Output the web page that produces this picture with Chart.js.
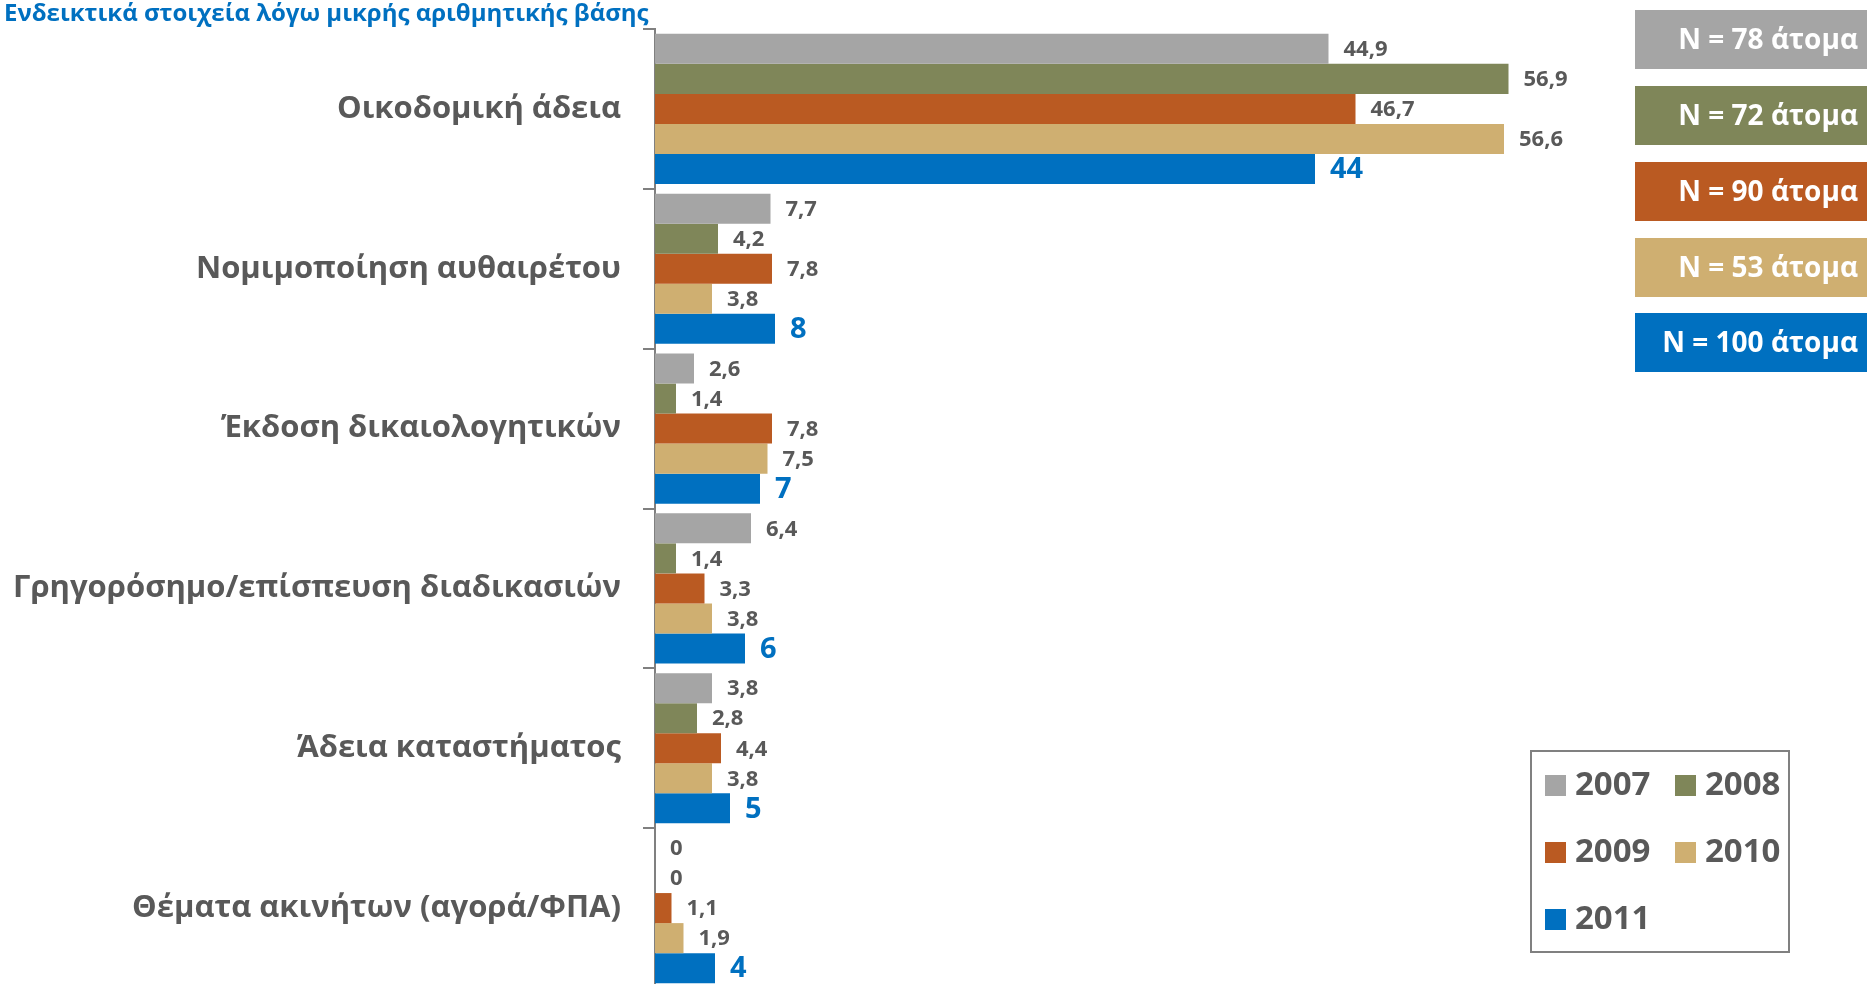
<!DOCTYPE html>
<html lang="el">
<head>
  <meta charset="UTF-8">
  <title>Ενδεικτικά στοιχεία</title>
  <script src="https://cdn.jsdelivr.net/npm/chart.js"></script>
  <style>
    html, body { margin: 0; padding: 0; background: #fff; overflow: hidden; }
    #wrap { position: relative; width: 1867px; height: 992px; }
    #title {
      position: absolute; left: 4px; top: -5px;
      font-family: "Open Sans", sans-serif; font-weight: bold;
      font-size: 24px; color: #0070C0; white-space: nowrap;
    }
  </style>
</head>
<body>
  <div id="wrap">
    <canvas id="chart" width="1867" height="992"></canvas>
    <div id="title">Ενδεικτικά στοιχεία λόγω μικρής αριθμητικής βάσης</div>
  </div>

  <script>
    // κατηγορίες
    const categories = [
      "Οικοδομική άδεια",
      "Νομιμοποίηση αυθαιρέτου",
      "Έκδοση δικαιολογητικών",
      "Γρηγορόσημο/επίσπευση διαδικασιών",
      "Άδεια καταστήματος",
      "Θέματα ακινήτων (αγορά/ΦΠΑ)"
    ];
    const years = ["2007", "2008", "2009", "2010", "2011"];
    const sampleSizes = ["N = 78 άτομα", "N = 72 άτομα", "N = 90 άτομα", "N = 53 άτομα", "N = 100 άτομα"];
    const colors = ["#A5A5A5", "#7F8659", "#BA5A22", "#CFAF71", "#0070C0"];

    // τιμές ανά έτος (%)
    const values2007 = [44.9, 7.7, 2.6, 6.4, 3.8, 0];
    const values2008 = [56.9, 4.2, 1.4, 1.4, 2.8, 0];
    const values2009 = [46.7, 7.8, 7.8, 3.3, 4.4, 1.1];
    const values2010 = [56.6, 3.8, 7.5, 3.8, 3.8, 1.9];
    const values2011 = [44, 8, 7, 6, 5, 4];
    const series = [values2007, values2008, values2009, values2010, values2011];

    const FONT = '"Open Sans", sans-serif';
    const GREY = "#595959";

    // ετικέτες τιμών δίπλα στις μπάρες
    const valueLabels = {
      id: "valueLabels",
      afterDatasetsDraw(chart) {
        const ctx = chart.ctx;
        ctx.save();
        ctx.textBaseline = "middle";
        ctx.textAlign = "left";
        chart.data.datasets.forEach((ds, i) => {
          const meta = chart.getDatasetMeta(i);
          const last = i === chart.data.datasets.length - 1;
          ctx.fillStyle = last ? "#0070C0" : GREY;
          ctx.font = "bold " + (last ? 29 : 22) + "px " + FONT;
          meta.data.forEach((bar, j) => {
            const txt = String(ds.data[j]).replace(".", ",");
            ctx.fillText(txt, bar.x + 15, bar.y + 1);
          });
        });
        ctx.restore();
      }
    };

    // κουτιά με Ν και υπόμνημα
    const boxes = {
      id: "boxes",
      afterDraw(chart) {
        const ctx = chart.ctx;
        ctx.save();
        // κουτιά Ν
        const tops = [10, 86, 162, 238, 313];
        sampleSizes.forEach((txt, i) => {
          ctx.fillStyle = colors[i];
          ctx.fillRect(1635, tops[i], 232, 59);
          ctx.fillStyle = "#fff";
          ctx.font = "bold 28px " + FONT;
          ctx.textAlign = "right";
          ctx.textBaseline = "middle";
          ctx.fillText(txt, 1858, tops[i] + 31);
        });
        // υπόμνημα
        ctx.strokeStyle = "#808080";
        ctx.lineWidth = 2;
        ctx.strokeRect(1531, 751, 258, 201);
        const pos = [[1545, 785], [1675, 785], [1545, 852], [1675, 852], [1545, 919]];
        chart.data.datasets.forEach((ds, i) => {
          const [x, y] = pos[i];
          ctx.fillStyle = ds.backgroundColor;
          ctx.fillRect(x, y - 10, 21, 21);
          ctx.fillStyle = GREY;
          ctx.font = "bold 33px " + FONT;
          ctx.textAlign = "left";
          ctx.textBaseline = "middle";
          ctx.fillText(ds.label, x + 30, y + 1);
        });
        ctx.restore();
      }
    };

    new Chart(document.getElementById("chart"), {
      type: "bar",
      data: {
        labels: categories,
        datasets: years.map((y, i) => ({
          label: y,
          data: series[i],
          backgroundColor: colors[i],
          borderWidth: 0,
          categoryPercentage: 0.94,
          barPercentage: 1
        }))
      },
      options: {
        indexAxis: "y",
        responsive: false,
        animation: false,
        layout: { padding: { top: 29, bottom: 4, right: 312, left: 0 } },
        plugins: { legend: { display: false }, tooltip: { enabled: false } },
        scales: {
          x: { display: false, min: 0, max: 60 },
          y: {
            afterFit(scale) {
              scale.width = 655;
              scale.paddingTop = 0;
              scale.paddingBottom = 0;
            },
            grid: { drawOnChartArea: false, offset: true, tickLength: 12, color: "#808080", lineWidth: 2 },
            border: { color: "#808080", width: 2 },
            ticks: {
              color: GREY,
              padding: 22,
              font: { family: FONT, weight: "bold", size: 31 }
            }
          }
        }
      },
      plugins: [valueLabels, boxes]
    });
  </script>
</body>
</html>
